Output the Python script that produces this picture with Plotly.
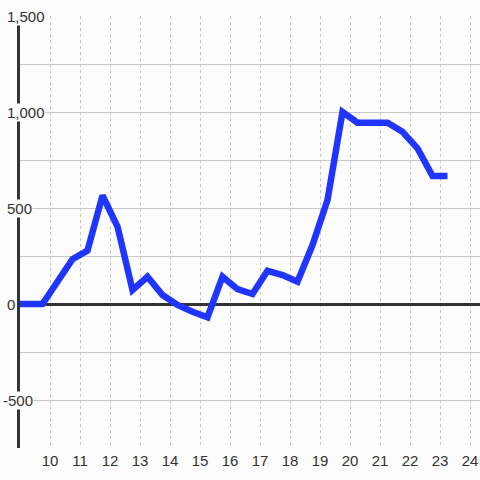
import plotly.graph_objects as go

hours = [9.0, 9.75, 10.75, 11.25, 11.75, 12.25, 12.75, 13.25, 13.75, 14.25, 14.75,
         15.25, 15.75, 16.25, 16.75, 17.25, 17.75, 18.25, 18.75, 19.25, 19.75,
         20.25, 20.75, 21.25, 21.75, 22.25, 22.75, 23.25]
values = [0, 0, 233, 278, 565, 403, 73, 142, 47, -5, -40,
          -69, 142, 77, 52, 173, 151, 116, 307, 542, 1000,
          944, 944, 944, 897, 811, 667, 667]

x_ticks = list(range(10, 25))
y_label_vals = [1500, 1000, 500, 0, -500]
y_label_text = ["1,500", "1,000", "500", "0", "-500"]

bg = "#fbfcfb"
font = "Liberation Sans, Arial, sans-serif"

fig = go.Figure()
fig.add_trace(go.Scatter(x=hours, y=values, mode="lines",
                         line=dict(color="#2035ff", width=6.5),
                         hoverinfo="skip"))

fig.update_layout(
    width=480, height=480,
    margin=dict(l=20, r=0, t=16, b=32),
    paper_bgcolor=bg, plot_bgcolor=bg,
    showlegend=False,
    font=dict(family=font, size=15, color="#333333"),
    xaxis=dict(range=[9, 24.3333], tickvals=x_ticks, ticktext=[str(v) for v in x_ticks],
               showgrid=True, gridcolor="#c4c4c4", gridwidth=1, griddash="dot",
               zeroline=False, showline=False, ticks="", ticklabelstandoff=2,
               tickfont=dict(size=15, color="#333333")),
    yaxis=dict(range=[-750, 1500], dtick=250, tick0=0,
               showgrid=True, gridcolor="#c8c8c8", gridwidth=1,
               zeroline=True, zerolinecolor="#333333", zerolinewidth=3,
               showline=True, linecolor="#333333", linewidth=3,
               showticklabels=False, ticks=""),
)

for v, t in zip(y_label_vals, y_label_text):
    fig.add_annotation(x=0, xref="paper", y=v, yref="y", text=t,
                       showarrow=False, xanchor="left",
                       xshift=(-18 if t.startswith("-") else -14),
                       bgcolor=bg, borderpad=0,
                       font=dict(family=font, size=15, color="#333333"))

fig.write_html("out.html", config={"displayModeBar": False},
               post_script="document.body.style.margin='0';document.body.style.background='%s';" % bg)
